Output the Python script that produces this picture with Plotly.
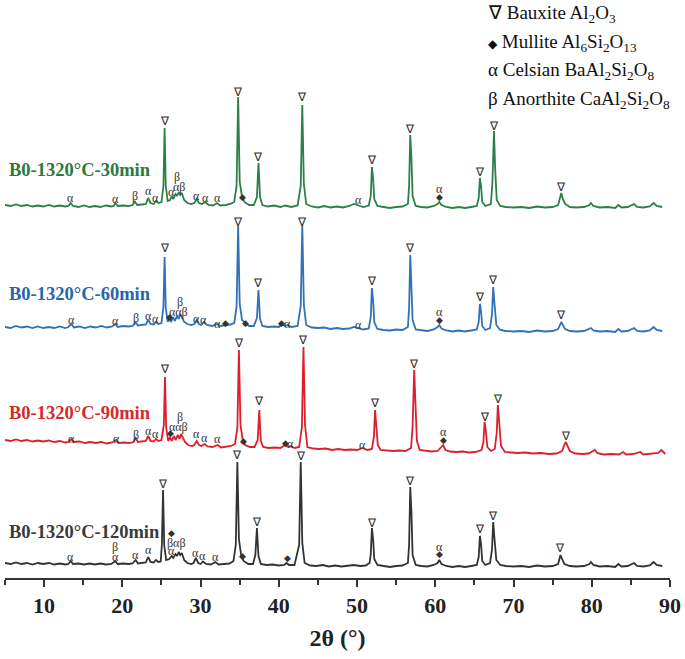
import plotly.graph_objects as go

# ---------------- data (2theta in degrees, intensity in arbitrary units) ----------------
series_names = ["B0-1320°C-30min", "B0-1320°C-60min", "B0-1320°C-90min", "B0-1320°C-120min"]
series_offsets = [370, 246, 123, 11]

pattern_30min = [(5.0,3),(5.7,2),(6.4,3.5),(7.1,2),(7.8,3),(8.5,1.5),(9.2,2.5),(9.9,1.5),(10.6,3),(11.3,1.5),(12.0,2.5),(12.7,1.5),(13.1,2),(13.4,5),(13.7,2),(14.4,1),(15.1,2.5),(15.8,1),(16.5,2),(17.2,1),(17.9,2.5),(18.6,1.5),(18.9,2),(19.1,5),(19.4,2),(20.1,2.5),(20.8,2),(21.3,3),(21.6,6.5),(21.9,3),(22.5,3.5),(23.0,4),(23.3,10),(23.6,5),(24.0,4),(24.3,7),(24.6,5),(25.0,6),(25.25,22),(25.4,80),(25.55,22),(25.8,7),(26.1,8),(26.3,12),(26.5,9),(26.8,14),(27.0,12),(27.2,16),(27.4,13),(27.6,15),(27.9,8),(28.3,5),(28.8,4),(29.2,5),(29.5,9),(29.8,5),(30.2,4),(30.6,6),(31.0,3),(31.6,2.5),(32.1,5),(32.5,2.5),(33.2,3),(33.8,4),(34.3,6),(34.6,22),(34.8,111),(35.0,26),(35.3,11),(35.6,6),(36.2,3),(36.8,3),(37.2,11),(37.4,45),(37.6,11),(37.9,3),(38.6,1.5),(39.4,2.5),(40.2,1),(40.8,2.5),(41.6,1),(42.4,2.5),(42.8,22),(43.0,103),(43.2,24),(43.5,4),(44.2,1.5),(45.0,0.5),(45.8,2),(46.6,0.5),(47.4,1.5),(48.2,0.5),(49.0,2),(49.6,4),(50.2,2.5),(50.8,1),(51.5,2.5),(51.75,12),(51.9,41),(52.05,30),(52.2,9),(52.6,2),(53.4,1),(54.2,0),(55.0,1),(55.8,1.5),(56.5,4),(56.65,22),(56.8,73),(56.95,50),(57.1,12),(57.5,2),(58.2,1),(59.0,0.5),(59.8,2),(60.3,4),(60.5,6),(60.8,3),(61.4,1),(62.2,0),(63.0,1),(63.8,0),(64.6,1),(65.3,2),(65.55,10),(65.7,30),(65.85,22),(66.0,6),(66.4,2),(67.1,4),(67.3,25),(67.5,77),(67.65,40),(67.85,8),(68.3,2),(69.0,1),(70.0,0.5),(71.0,1),(72.0,0),(73.0,1.5),(74.0,0.5),(75.0,1),(75.7,3),(76.0,12),(76.1,15),(76.3,9),(76.6,4),(77.2,1),(78.0,0.5),(79.0,1),(79.7,3),(79.9,5),(80.2,2),(81.0,0.5),(82.0,1),(83.0,0),(83.4,3),(83.8,0.5),(84.6,1),(85.4,4),(85.8,1),(86.6,0.5),(87.4,1.5),(87.9,5),(88.3,2),(89.0,1)]

pattern_60min = [(5.0,5),(5.7,4),(6.4,6),(7.1,4.5),(7.8,5.5),(8.5,4),(9.2,5.5),(9.9,4),(10.6,5),(11.3,4),(12.0,5.5),(12.7,4),(13.1,5),(13.5,8),(13.8,4.5),(14.5,5.5),(15.2,4),(15.9,5.5),(16.6,4.5),(17.3,6),(18.0,4.5),(18.7,5.5),(19.1,8),(19.4,5),(20.1,6),(20.8,5.5),(21.3,6),(21.7,9.5),(22.0,6.5),(22.6,7),(23.0,7.5),(23.3,12),(23.6,8),(24.0,7.5),(24.3,10),(24.6,8),(25.0,9),(25.25,25),(25.4,75),(25.55,24),(25.8,10),(26.0,14),(26.2,10),(26.5,15),(26.7,11),(27.0,16),(27.2,13),(27.4,18),(27.6,14),(27.9,10),(28.3,8),(28.8,7),(29.2,8),(29.5,12),(29.8,8),(30.1,7),(30.4,10),(30.8,7),(31.5,6),(32.1,8),(32.5,6),(33.2,7),(33.8,7.5),(34.3,9),(34.6,25),(34.8,106),(35.0,28),(35.3,12),(35.7,9),(36.2,6),(36.8,6),(37.2,14),(37.4,42),(37.6,13),(37.9,6),(38.6,5),(39.4,5.5),(40.0,5),(40.4,8),(40.8,6),(41.1,7),(41.6,5),(42.4,6),(42.8,26),(43.0,107),(43.2,27),(43.5,7),(44.2,4.5),(45.0,4),(45.8,4.5),(46.6,3),(47.4,4),(48.2,3),(49.0,3.5),(49.6,5),(50.2,4),(50.8,2.5),(51.5,3.5),(51.75,15),(51.9,44),(52.05,32),(52.2,10),(52.6,3),(53.4,2),(54.2,1.5),(55.0,2.5),(55.8,2),(56.5,5),(56.65,24),(56.8,77),(56.95,52),(57.1,12),(57.5,2.5),(58.2,1.5),(59.0,1),(59.8,2.5),(60.3,5),(60.5,7),(60.8,3.5),(61.4,1.5),(62.2,0.5),(63.0,1.5),(63.8,0.5),(64.6,1.5),(65.3,2.5),(65.55,10),(65.7,28),(65.85,21),(66.0,6),(66.4,2),(67.0,4),(67.25,18),(67.4,45),(67.55,30),(67.8,7),(68.3,2),(69.0,1),(70.0,0.5),(71.0,1),(72.0,0),(73.0,1.5),(74.0,0.5),(75.0,1),(75.7,3),(76.0,8),(76.1,10),(76.3,7),(76.6,3),(77.2,1),(78.0,0.5),(79.0,1),(79.7,3),(79.9,4),(80.2,1.5),(81.0,0.5),(82.0,1),(83.0,0),(83.4,3),(83.8,0.5),(84.6,1),(85.4,4),(85.8,1),(86.6,0.5),(87.4,1.5),(87.9,5),(88.3,2),(89.0,1)]

pattern_90min = [(5.0,15),(5.7,14),(6.4,15.5),(7.1,14),(7.8,15),(8.5,13.5),(9.2,14.5),(9.9,13.5),(10.6,14.5),(11.3,13),(12.0,14),(12.7,12.5),(13.1,13),(13.5,16),(13.8,13),(14.5,13.5),(15.2,12),(15.9,13),(16.6,12),(17.3,13),(18.0,11.5),(18.7,12.5),(19.2,15),(19.5,12),(20.2,12.5),(20.9,12),(21.4,13),(21.7,17),(22.0,13),(22.6,13.5),(23.0,14),(23.3,19),(23.6,14),(24.0,13.5),(24.3,16),(24.6,14),(25.0,15),(25.3,30),(25.45,78),(25.6,28),(25.85,14),(26.1,18),(26.3,14),(26.6,19),(26.8,15),(27.1,20),(27.3,16),(27.5,21),(27.7,17),(28.0,13),(28.4,10),(28.9,9),(29.2,10),(29.5,14),(29.8,10),(30.1,9),(30.5,11),(30.9,8.5),(31.5,8),(32.2,10),(32.6,7.5),(33.3,8),(33.9,9),(34.4,11),(34.7,27),(34.9,105),(35.1,30),(35.4,14),(35.7,10),(36.3,8),(36.9,8),(37.3,15),(37.5,45),(37.7,14),(38.0,8),(38.7,7),(39.5,7.5),(40.2,7),(40.8,10),(41.2,8),(41.5,9),(42.0,7),(42.6,8),(42.95,28),(43.15,108),(43.35,30),(43.65,8),(44.4,6.5),(45.2,6),(46.0,6.5),(46.8,5),(47.6,6),(48.4,5),(49.2,5.5),(50.0,5),(50.7,7),(51.3,5),(51.9,6),(52.15,18),(52.3,45),(52.45,33),(52.65,10),(53.0,5),(53.8,4.5),(54.6,4),(55.4,4.5),(56.2,4),(56.9,7),(57.1,28),(57.3,85),(57.45,58),(57.65,14),(58.0,5),(58.7,4),(59.5,3.5),(60.3,4),(60.8,8),(61.0,10),(61.3,5),(61.9,3.5),(62.7,3),(63.5,3.5),(64.3,2.5),(65.1,3),(65.9,5),(66.15,13),(66.3,33),(66.45,25),(66.65,8),(67.1,4),(67.6,6),(67.85,22),(68.0,50),(68.15,35),(68.4,9),(68.9,3),(69.6,2.5),(70.5,2),(71.5,2.5),(72.5,1.5),(73.5,2),(74.5,1),(75.5,1.5),(76.2,4),(76.55,11),(76.7,13),(76.9,9),(77.2,4),(77.9,1.5),(78.8,1),(79.6,1.5),(80.2,4),(80.4,5),(80.7,2),(81.5,0.5),(82.5,1),(83.5,0.5),(84.0,3),(84.4,0.5),(85.3,1),(86.2,3),(86.6,0.5),(87.6,1),(88.5,2),(88.9,5),(89.2,2),(89.4,1)]

pattern_120min = [(5.0,4),(5.7,3),(6.4,4.5),(7.1,3),(7.8,4),(8.5,2.5),(9.2,4),(9.9,3),(10.6,4),(11.3,2.5),(12.0,3.5),(12.7,2.5),(13.1,3),(13.4,6),(13.7,3),(14.4,3.5),(15.1,2.5),(15.8,3.5),(16.5,2.5),(17.2,3.5),(17.9,2.5),(18.6,3),(19.1,6),(19.4,3),(20.1,3.5),(20.8,3),(21.3,3.5),(21.7,7),(22.0,3.5),(22.6,4),(23.0,4.5),(23.3,10),(23.6,5),(24.0,4.5),(24.3,7),(24.6,5),(24.9,5.5),(25.05,22),(25.2,77),(25.35,22),(25.6,7),(26.0,8),(26.3,11),(26.5,9),(26.8,13),(27.0,11),(27.2,15),(27.4,12),(27.6,14),(27.9,7),(28.3,4),(28.8,3),(29.1,4),(29.4,9),(29.7,4),(30.0,3),(30.3,5.5),(30.7,3),(31.3,2.5),(31.9,5),(32.3,2.5),(33.0,3),(33.7,3.5),(34.2,6),(34.5,22),(34.7,105),(34.9,28),(35.2,11),(35.5,6),(36.1,3),(36.7,3),(37.0,12),(37.2,39),(37.4,11),(37.7,3),(38.4,2),(39.2,2.5),(40.0,1.5),(40.7,2),(41.0,4),(41.3,2),(42.0,2),(42.6,22),(42.8,105),(43.0,24),(43.3,4),(44.0,1.5),(44.8,1),(45.6,2),(46.4,0.5),(47.2,1.5),(48.0,0.5),(48.8,1.5),(49.6,2),(50.4,1),(51.1,1.5),(51.6,4),(51.75,13),(51.9,39),(52.05,28),(52.2,8),(52.6,2),(53.4,1),(54.2,0),(55.0,1),(55.8,1.5),(56.5,4),(56.65,22),(56.8,80),(56.95,55),(57.1,12),(57.5,2),(58.2,1),(59.0,0.5),(59.8,2),(60.3,4),(60.5,7),(60.8,3),(61.4,1),(62.2,0),(63.0,1),(63.8,0),(64.6,1),(65.3,2),(65.55,10),(65.7,31),(65.85,23),(66.0,6),(66.4,2),(67.0,4),(67.25,18),(67.4,45),(67.55,30),(67.8,7),(68.3,2),(69.0,1),(70.0,0.5),(71.0,1),(72.0,0),(73.0,1.5),(74.0,0.5),(75.0,1),(75.7,3),(75.9,9),(76.0,12),(76.2,8),(76.5,3),(77.2,1),(78.0,0.5),(79.0,1),(79.7,3),(79.9,5),(80.2,2),(81.0,0.5),(82.0,1),(83.0,0),(83.4,3),(83.8,0.5),(84.6,1),(85.4,4),(85.8,1),(86.6,0.5),(87.4,1.5),(87.9,5),(88.3,2),(89.0,1)]

# phase markers: (2theta, stacked intensity, symbol)
peaks_30min = [(13.4,380,"α"),(19.1,379,"α"),(21.6,382,"β"),(23.3,387,"α"),(24.3,380,"α"),(25.4,457,"∇"),(26.3,386,"α"),(27.3,391,"αβ"),(26.95,401,"β"),(29.5,382,"α"),(30.6,380,"α"),(32.1,380,"α"),(34.8,486,"∇"),(35.4,381,"◆"),(37.4,421,"∇"),(43.0,481,"∇"),(50.2,378,"α"),(51.9,418,"∇"),(56.8,449,"∇"),(60.5,389,"α"),(60.5,381,"◆"),(65.7,406,"∇"),(67.5,452,"∇"),(76.1,391,"∇")]
peaks_60min = [(13.5,258,"α"),(19.1,257,"α"),(21.7,260,"β"),(23.3,262,"α"),(24.3,259,"α"),(25.4,330,"∇"),(26.0,261,"◆"),(27.2,266,"ααβ"),(27.4,276,"β"),(29.5,259,"α"),(30.4,258,"α"),(32.1,254,"α"),(33.2,255,"◆"),(34.8,356,"∇"),(35.7,255,"◆"),(37.4,295,"∇"),(40.4,255,"◆"),(41.1,254,"α"),(43.0,356,"∇"),(50.2,253,"α"),(51.9,297,"∇"),(56.8,330,"∇"),(60.5,266,"α"),(60.5,258,"◆"),(65.7,281,"∇"),(67.4,298,"∇"),(76.1,263,"∇")]
peaks_90min = [(13.5,139,"α"),(19.2,139,"α"),(21.7,143,"β"),(23.3,147,"α"),(24.3,144,"α"),(25.45,209,"∇"),(26.1,145,"◆"),(27.2,151,"ααβ"),(27.4,161,"β"),(29.5,144,"α"),(30.5,140,"α"),(32.2,139,"α"),(34.9,235,"∇"),(35.5,137,"◆"),(37.5,177,"∇"),(40.8,135,"◆"),(41.5,134,"α"),(43.15,238,"∇"),(50.7,133,"α"),(52.3,175,"∇"),(57.3,214,"∇"),(61.0,146,"α"),(61.0,138,"◆"),(66.3,161,"∇"),(68.0,179,"∇"),(76.7,142,"∇")]
peaks_120min = [(13.4,21,"α"),(19.1,31,"β"),(19.1,21,"α"),(21.7,23,"α"),(23.3,28,"α"),(25.2,94,"∇"),(26.3,45,"◆"),(26.9,35,"βαβ"),(26.3,27,"α"),(29.4,25,"α"),(30.3,22,"α"),(31.9,21,"α"),(34.7,123,"∇"),(35.3,22,"◆"),(37.2,56,"∇"),(41.1,20,"◆"),(42.8,122,"∇"),(51.9,55,"∇"),(56.8,97,"∇"),(60.5,31,"α"),(60.5,24,"◆"),(65.7,49,"∇"),(67.4,62,"∇"),(76.0,30,"∇")]

series_label_y = [408, 284, 165, 46]
phase_legend = ["∇ Bauxite Al<sub>2</sub>O<sub>3</sub>",
                "<span style='font-size:12px'>◆</span> Mullite Al<sub>6</sub>Si<sub>2</sub>O<sub>13</sub>",
                "α Celsian BaAl<sub>2</sub>Si<sub>2</sub>O<sub>8</sub>",
                "β Anorthite CaAl<sub>2</sub>Si<sub>2</sub>O<sub>8</sub>"]
phase_legend_y = [564, 535, 507, 478]
x_ticks = [10, 20, 30, 40, 50, 60, 70, 80, 90]

# ---------------- styles ----------------
line_colors = ["#2b8049", "#2f72b8", "#dc1f2c", "#333333"]
label_colors = ["#2a7a3e", "#2466ad", "#d42a2a", "#3a3a3a"]
SERIF = "Liberation Serif, Times New Roman, serif"

patterns = [pattern_30min, pattern_60min, pattern_90min, pattern_120min]
peaks = [peaks_30min, peaks_60min, peaks_90min, peaks_120min]

fig = go.Figure()
for name, pat, off, col in zip(series_names, patterns, series_offsets, line_colors):
    fig.add_trace(go.Scatter(
        x=[p[0] for p in pat], y=[p[1] + off for p in pat],
        mode="lines", name=name, line=dict(color=col, width=1.8),
        showlegend=False))

annotations = []
for plist in peaks:
    for th, yv, sym in plist:
        size = 12
        if sym == "◆":
            size = 9
        annotations.append(dict(x=th, y=yv, xref="x", yref="y", text=sym, showarrow=False,
                                xanchor="center", yanchor="middle",
                                font=dict(family=SERIF, size=size, color="#333333")))

for name, yv, col in zip(series_names, series_label_y, label_colors):
    annotations.append(dict(x=5.2, y=yv, xref="x", yref="y", text=name, showarrow=False,
                            xanchor="left", yanchor="middle",
                            font=dict(family=SERIF, size=18.5, color=col, weight="bold")))

for txt, yv in zip(phase_legend, phase_legend_y):
    annotations.append(dict(x=66.5, y=yv, xref="x", yref="y", text=txt, showarrow=False,
                            xanchor="left", yanchor="middle",
                            font=dict(family=SERIF, size=19, color="#111111")))

fig.update_layout(
    width=685, height=659,
    margin=dict(l=5, r=15, t=0, b=81),
    paper_bgcolor="white", plot_bgcolor="white",
    annotations=annotations,
    xaxis=dict(range=[5, 90], tickvals=x_ticks, showline=True, linecolor="#333333", linewidth=2,
               ticks="outside", ticklen=7, tickwidth=2, tickcolor="#333333",
               showgrid=False, zeroline=False,
               tickfont=dict(family=SERIF, size=22, color="#222222", weight="bold"),
               minor=dict(ticks="outside", ticklen=5, tickwidth=1.5, tickcolor="#333333", dtick=5, tick0=5),
               title=dict(text="2θ (°)", standoff=12,
                          font=dict(family=SERIF, size=24, color="#222222", weight="bold"))),
    yaxis=dict(range=[0, 578], visible=False, fixedrange=True),
)

fig.write_html("out.html", config={"displayModeBar": False},
               post_script="document.body.style.margin='0px';")
